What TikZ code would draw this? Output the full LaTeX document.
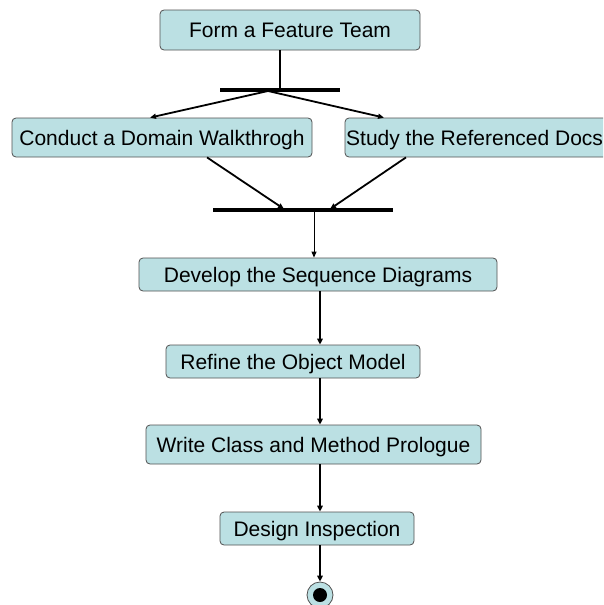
\documentclass[tikz,border=0pt]{standalone}
\usepackage{fontspec}
\setmainfont{Liberation Sans}
\usetikzlibrary{arrows.meta}
\definecolor{actfill}{HTML}{BBE0E3}
\definecolor{actline}{HTML}{505050}
\tikzset{
  labelfont/.style={font=\fontsize{21}{24}\selectfont, text height=15pt, text depth=0pt},
  actbox/.style={draw=actline, line width=0.8pt, fill=actfill, rounded corners=4pt,
    inner sep=0pt, labelfont},
  flow/.style={line width=2.4pt, -{Triangle[length=6pt,width=5.5pt]}},
  slantflow/.style={line width=1.8pt, -{Triangle[length=6pt,width=5pt]}},
  thinflow/.style={line width=1pt, -{Triangle[length=6pt,width=5pt]}},
  syncbar/.style={fill=black, draw=none, inner sep=0pt, minimum height=3.5pt},
}
\begin{document}
\begin{tikzpicture}[x=1pt,y=-1pt]
\useasboundingbox (0,0) rectangle (603,605);
\clip (0,0) rectangle (603,605);

% activity boxes
\node[actbox, minimum width=260, minimum height=40] (form) at (290,30) {Form a Feature Team};
\node[actbox, minimum width=300, minimum height=39] (walk) at (162,137.5) {Conduct a Domain Walkthrogh};
\node[actbox, minimum width=280, minimum height=39] (docs) at (485,137.5) {};
\node[anchor=west, inner sep=0pt, labelfont] (docstext) at (346,137.5) {Study the Referenced Docs};
\node[actbox, minimum width=358, minimum height=33] (seq) at (318,274.5) {Develop the Sequence Diagrams};
\node[actbox, minimum width=254, minimum height=33] (model) at (293,361.5) {Refine the Object Model};
\node[actbox, minimum width=335, minimum height=39] (prol) at (313.5,444.5) {Write Class and Method Prologue};
\node[actbox, minimum width=194, minimum height=33] (insp) at (317,528.5) {Design Inspection};

% fork and join bars
\node[syncbar, minimum width=120] (fork) at (280,90) {};
\node[syncbar, minimum width=180] (join) at (303,210) {};

% final node
\node[circle, draw=actline, line width=0.8pt, fill=actfill, minimum size=26pt, inner sep=0pt] (final) at (320,595) {};
\node[circle, fill=black, minimum size=14pt, inner sep=0pt] (finaldot) at (final) {};

% connector end points on the bars
\coordinate (forkout) at (268,91);
\coordinate (joinl) at (284,209);
\coordinate (joinr) at (330,209);
\coordinate (joinout) at (314,211);

% connectors
\draw[line width=2.4pt] (form.south -| 280,0) -- (fork.center);
\draw[slantflow] (forkout) -- (walk.north -| 150,0);
\draw[slantflow] (forkout) -- (docs.north -| 384,0);
\draw[slantflow] (walk.south -| 207,0) -- (joinl);
\draw[slantflow] (docs.south -| 406,0) -- (joinr);
\draw[thinflow] (joinout) -- (seq.north -| 314,0);
\draw[flow] (seq.south -| 320,0) -- (model.north -| 320,0);
\draw[flow] (model.south -| 320,0) -- (prol.north -| 320,0);
\draw[flow] (prol.south -| 320,0) -- (insp.north -| 320,0);
\draw[flow] (insp.south -| 320,0) -- (final.north);
\end{tikzpicture}
\end{document}
